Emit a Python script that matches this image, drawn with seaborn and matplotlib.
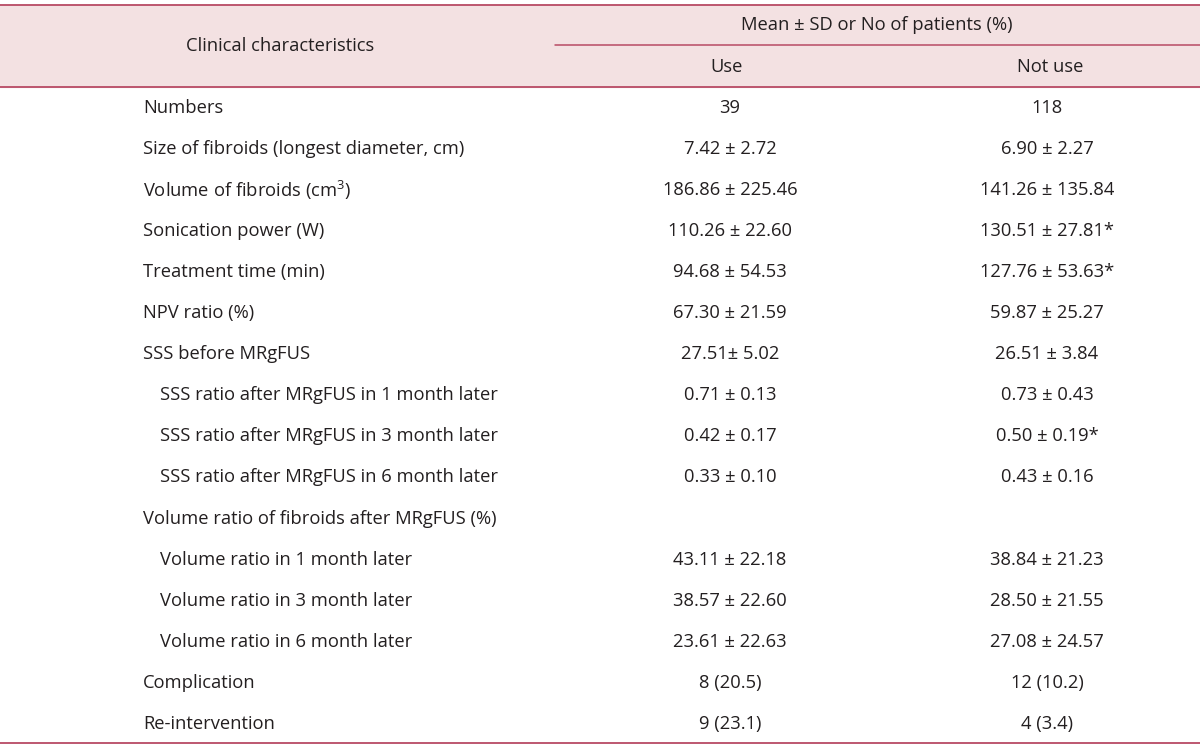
import matplotlib
matplotlib.use("Agg")
import matplotlib.pyplot as plt
import seaborn as sns

# table content
labels = [
    "Numbers",
    "Size of fibroids (longest diameter, cm)",
    "Volume of fibroids (cm$^{3}$)",
    "Sonication power (W)",
    "Treatment time (min)",
    "NPV ratio (%)",
    "SSS before MRgFUS",
    "SSS ratio after MRgFUS in 1 month later",
    "SSS ratio after MRgFUS in 3 month later",
    "SSS ratio after MRgFUS in 6 month later",
    "Volume ratio of fibroids after MRgFUS (%)",
    "Volume ratio in 1 month later",
    "Volume ratio in 3 month later",
    "Volume ratio in 6 month later",
    "Complication",
    "Re-intervention",
]
indented = [0, 0, 0, 0, 0, 0, 0, 1, 1, 1, 0, 1, 1, 1, 0, 0]
use_vals = [
    "39", "7.42 ± 2.72", "186.86 ± 225.46", "110.26 ± 22.60", "94.68 ± 54.53",
    "67.30 ± 21.59", "27.51± 5.02", "0.71 ± 0.13", "0.42 ± 0.17", "0.33 ± 0.10",
    "", "43.11 ± 22.18", "38.57 ± 22.60", "23.61 ± 22.63", "8 (20.5)", "9 (23.1)",
]
not_use_vals = [
    "118", "6.90 ± 2.27", "141.26 ± 135.84", "130.51 ± 27.81*", "127.76 ± 53.63*",
    "59.87 ± 25.27", "26.51 ± 3.84", "0.73 ± 0.43", "0.50 ± 0.19*", "0.43 ± 0.16",
    "", "38.84 ± 21.23", "28.50 ± 21.55", "27.08 ± 24.57", "12 (10.2)", "4 (3.4)",
]
header_main = "Clinical characteristics"
header_group = "Mean ± SD or No of patients (%)"
header_cols = ["Use", "Not use"]

line_col = "#b84a64"
fill_col = "#f3e1e2"
text_col = "#231f20"

sns.set_theme(style="white")
plt.rcParams["font.family"] = ["Open Sans", "DejaVu Sans"]
plt.rcParams["mathtext.default"] = "regular"

fig = plt.figure(figsize=(12, 7.48), dpi=100)
ax = fig.add_axes([0, 0, 1, 1])
ax.set_xlim(0, 1200)
ax.set_ylim(748, 0)
ax.axis("off")

fs = 13.2
# header band
ax.axhspan(5, 87, color=fill_col, zorder=0)
ax.axhline(5, color=line_col, lw=1.3)
ax.axhline(87, color=line_col, lw=1.3)
ax.plot([555, 1200], [45, 45], color=line_col, lw=1.1)
ax.axhline(743, color=line_col, lw=1.3)

ax.text(280, 46, header_main, ha="center", va="center", fontsize=fs, color=text_col)
ax.text(877, 25, header_group, ha="center", va="center", fontsize=fs, color=text_col)
ax.text(727, 67, header_cols[0], ha="center", va="center", fontsize=fs, color=text_col)
ax.text(1050, 67, header_cols[1], ha="center", va="center", fontsize=fs, color=text_col)

y0, dy = 108, 41.05
for i, lab in enumerate(labels):
    y = y0 + i * dy
    ax.text(160 if indented[i] else 143, y, lab, ha="left", va="center",
            fontsize=fs, color=text_col)
    ax.text(730, y, use_vals[i], ha="center", va="center", fontsize=fs, color=text_col)
    ax.text(1047, y, not_use_vals[i], ha="center", va="center", fontsize=fs, color=text_col)

fig.savefig("out.png", dpi=100)
